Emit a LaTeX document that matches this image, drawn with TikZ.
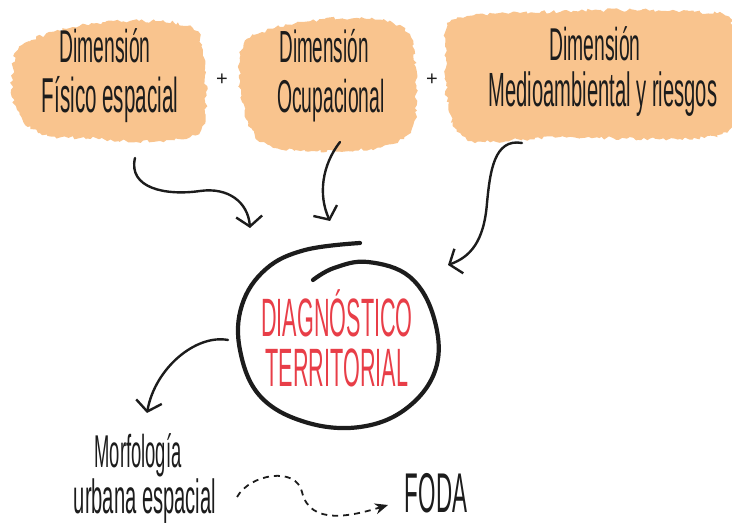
\documentclass[tikz,border=0pt]{standalone}
\usepackage{fontspec}
\usetikzlibrary{arrows.meta,decorations.pathmorphing}
\newfontfamily\handA{Liberation Sans}[FakeStretch=0.42]
\newfontfamily\handB{Liberation Sans}[FakeStretch=0.40]
\newfontfamily\plainsans{Liberation Sans}
\definecolor{peach}{RGB}{249,196,142}
\definecolor{ink}{RGB}{28,28,28}
\definecolor{redink}{RGB}{232,62,72}
\tikzset{
  blob/.style={fill=peach, draw=none, decorate, decoration={random steps, segment length=3pt, amplitude=1.8pt}},
  dimtxt/.style={text=ink, inner sep=0pt, anchor=base, font=\handA\fontsize{46}{46}\selectfont},
  diagtxt/.style={text=redink, inner sep=0pt, anchor=base, font=\handB\fontsize{54}{54}\selectfont},
  sketcharrow/.style={draw=ink, line width=2.4pt, line cap=round, -{Straight Barb[length=10pt,width=26pt,line width=2.4pt]}},
  dasharrow/.style={draw=ink, line width=1.8pt, dash pattern=on 6pt off 5pt, -{Stealth[length=13pt,width=11pt]}},
  plustxt/.style={text=ink, inner sep=0pt, font=\plainsans\fontsize{20}{20}\selectfont},
  spot/.style={inner sep=0pt, minimum size=0pt}
}
\begin{document}
\begin{tikzpicture}[x=1pt,y=-1pt]
\pgfmathsetseed{7}
\useasboundingbox (0,0) rectangle (732,526);
% blobs
\path[blob] plot[smooth cycle, tension=0.6] coordinates {(22,45) (70,28) (130,21) (188,26) (203,50) (206,92) (201,130) (160,141) (100,139) (40,133) (15,105) (13,68)};
\path[blob] plot[smooth cycle, tension=0.6] coordinates {(250,38) (300,22) (370,19) (408,33) (416,80) (412,128) (382,147) (312,151) (262,142) (242,102) (240,62)};
\path[blob] plot[smooth cycle, tension=0.5] coordinates {(452,20) (520,13) (620,10) (700,12) (730,18) (734,60) (731,128) (680,139) (560,137) (472,141) (449,112) (446,60)};
\node[spot, minimum width=190pt, minimum height=120pt] (b1) at (108,80) {};
\node[spot, minimum width=175pt, minimum height=130pt] (b2) at (328,85) {};
\node[spot, minimum width=285pt, minimum height=130pt] (b3) at (590,75) {};
% texts in blobs
\node[dimtxt] (d1a) at (105,63) {Dimensión};
\node[dimtxt, font=\handA\fontsize{49}{49}\selectfont] (d1b) at (110,113) {Físico espacial};
\node[dimtxt, font=\handA\fontsize{45}{45}\selectfont] (d2a) at (324,63) {Dimensión};
\node[dimtxt, font=\handA\fontsize{46}{46}\selectfont] (d2b) at (331,113) {Ocupacional};
\node[dimtxt] (d3a) at (595,61) {Dimensión};
\node[dimtxt, font=\handA\fontsize{48}{48}\selectfont] (d3b) at (603,107) {Medioambiental y riesgos};
\node[plustxt] (p1) at (222,80) {+};
\node[plustxt] (p2) at (432,80) {+};
% central diagnosis
\node[spot, minimum width=196pt, minimum height=170pt] (diag) at (338,343) {};
\node[diagtxt] (t1) at (337,337) {DIAGNÓSTICO};
\node[diagtxt] (t2) at (337,387) {TERRITORIAL};
\draw[ink, line width=4.2pt, line cap=round] plot[smooth, tension=0.65] coordinates {(313,280) (334,268) (368,262) (410,277) (434,318) (436,368) (407,408) (360,427) (305,422) (260,396) (240,350) (242,305) (266,269) (305,250) (360,243)};
% lower texts
\node[dimtxt, font=\handB\fontsize{46}{46}\selectfont] (m1) at (138,468) {Morfología};
\node[dimtxt, font=\handA\fontsize{48}{48}\selectfont] (m2) at (145,514) {urbana espacial};
\node[dimtxt, font=\handB\fontsize{56}{56}\selectfont] (foda) at (436,513) {FODA};
% arrow anchors
\coordinate (a1s) at (135,158);
\coordinate (a1e) at (250,228);
\coordinate (a2s) at (340,142);
\coordinate (a2e) at (330,221);
\coordinate (a3s) at (522,143);
\coordinate (a3e) at (448,265);
\coordinate (a4s) at (228,340);
\coordinate (a4e) at (147,413);
\coordinate (a5s) at (237,497);
\coordinate (a5e) at (388,505);
\draw[sketcharrow] (a1s) .. controls (128,188) and (165,196) .. (200,191) .. controls (228,187) and (248,202) .. (a1e);
\draw[sketcharrow] (a2s) .. controls (322,165) and (318,195) .. (a2e);
\draw[sketcharrow] (a3s) .. controls (494,138) and (490,172) .. (487,203) .. controls (484,242) and (470,257) .. (a3e);
\draw[sketcharrow] (a4s) .. controls (196,334) and (155,368) .. (a4e);
\draw[dasharrow] (a5s) .. controls (250,474) and (296,466) .. (302,492) .. controls (310,526) and (352,516) .. (a5e);
\end{tikzpicture}
\end{document}
